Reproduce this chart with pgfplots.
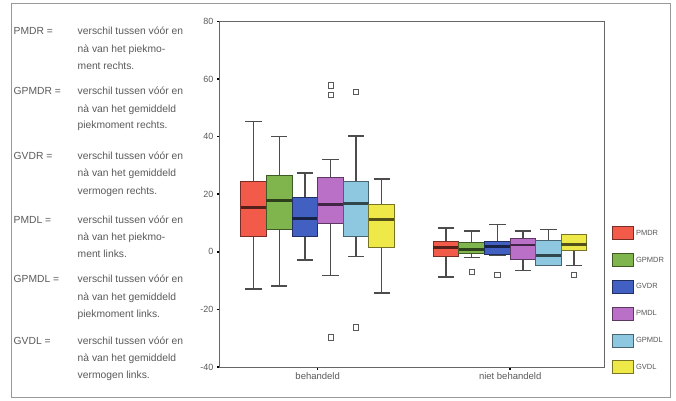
\documentclass[border=0pt]{standalone}
\usepackage{pgfplots}
\pgfplotsset{compat=1.18}
\usepackage{fontspec}
\setmainfont{Liberation Sans}
\definecolor{cR}{RGB}{242,90,74}
\definecolor{cG}{RGB}{128,180,76}
\definecolor{cB}{RGB}{66,96,194}
\definecolor{cP}{RGB}{185,112,198}
\definecolor{cL}{RGB}{142,200,224}
\definecolor{cY}{RGB}{238,232,72}
\definecolor{txt}{RGB}{90,90,90}
\pgfplotsset{
  legbox/.style={legend image code/.code={\draw[fill=#1,draw=#1!50!black,line width=0.8pt] (0pt,-6.5pt) rectangle (21pt,6.5pt);}},
}
% box: centre, lower whisker, lower quartile, median, upper quartile, upper whisker, colour
\newcommand\bx[7]{%
  \pgfmathsetmacro\xa{#1-0.0665}\pgfmathsetmacro\xb{#1+0.0665}%
  \pgfmathsetmacro\wa{#1-0.0425}\pgfmathsetmacro\wb{#1+0.0425}%
  \edef\tmp{\noexpand\addplot[forget plot, draw=black!70, line width=1.4pt, unbounded coords=jump] coordinates {(#1,#2) (#1,#3) (#1,nan) (#1,#5) (#1,#6) (#1,nan) (\wa,#2) (\wb,#2) (#1,nan) (\wa,#6) (\wb,#6)};
  \noexpand\addplot[forget plot, fill=#7, draw=#7!50!black, line width=1pt] coordinates {(\xa,#3) (\xb,#3) (\xb,#5) (\xa,#5)} --cycle;
  \noexpand\addplot[forget plot, draw=#7!35!black, line width=2.8pt] coordinates {(\xa,#4) (\xb,#4)};}%
  \tmp
}
\newcommand\tl[3]{\node[anchor=base west, inner sep=0pt, text=txt, font=\fontsize{10.3}{12}\selectfont] at (#1pt,#2pt) {#3};}
\begin{document}
\begin{tikzpicture}
\fill[white] (0pt,0pt) rectangle (676pt,400pt);
\draw[black!40, line width=0.8pt] (11pt,3pt) rectangle (670pt,397pt);
% explanatory text
\tl{13.5}{366}{PMDR =}
\tl{77.5}{366}{verschil tussen vóór en}
\tl{77.5}{348}{nà van het piekmo-}
\tl{77.5}{331}{ment rechts.}
\tl{13.5}{306}{GPMDR =}
\tl{77.5}{306}{verschil tussen vóór en}
\tl{77.5}{288}{nà van het gemiddeld}
\tl{77.5}{272}{piekmoment rechts.}
\tl{13.5}{241}{GVDR =}
\tl{77.5}{241}{verschil tussen vóór en}
\tl{77.5}{224}{nà van het gemiddeld}
\tl{77.5}{206}{vermogen rechts.}
\tl{13.5}{177}{PMDL =}
\tl{77.5}{177}{verschil tussen vóór en}
\tl{77.5}{160}{nà van het piekmo-}
\tl{77.5}{143}{ment links.}
\tl{13.5}{118}{GPMDL =}
\tl{77.5}{118}{verschil tussen vóór en}
\tl{77.5}{100}{nà van het gemiddeld}
\tl{77.5}{83}{piekmoment links.}
\tl{13.5}{56}{GVDL =}
\tl{77.5}{56}{verschil tussen vóór en}
\tl{77.5}{39}{nà van het gemiddeld}
\tl{77.5}{22}{vermogen links.}
\begin{axis}[
  at={(219.5pt,33pt)}, anchor=south west,
  scale only axis, width=385pt, height=345.5pt,
  xmin=0.49, xmax=2.49, ymin=-40, ymax=80,
  xtick={1,2}, xticklabels={behandeld, niet behandeld},
  ytick={-40,-20,0,20,40,60,80},
  tick pos=left,
  axis line style={draw=black!60, line width=1pt},
  tick align=outside, major tick length=2.5pt,
  tick style={black, line width=1.6pt},
  xticklabel style={font=\fontsize{9.5}{10}\selectfont, text=txt},
  yticklabel style={font=\fontsize{9}{10}\selectfont, text=txt},
  /pgf/number format/assume math mode=true,
  legend style={at={(1.0187,0.4067)}, anchor=north west, draw=none, fill=none,
    font=\fontsize{7.5}{8}\selectfont, text=txt, row sep=13pt, column sep=2.5pt,
    inner sep=0pt, outer sep=0pt, nodes={inner sep=0pt, outer sep=0pt}},
  legend cell align=left,
]
% behandeld
\bx{0.6675}{-12.9}{5.4}{15.5}{24.4}{45.3}{cR}
\bx{0.8005}{-11.8}{7.6}{17.8}{26.4}{40.0}{cG}
\bx{0.9335}{-2.9}{5.3}{11.7}{18.7}{27.4}{cB}
\bx{1.0665}{-8.3}{10.0}{16.5}{25.9}{32.0}{cP}
\bx{1.1995}{-1.7}{5.3}{16.9}{24.3}{40.2}{cL}
\bx{1.3325}{-14.3}{1.5}{11.1}{16.5}{25.3}{cY}
% niet behandeld
\bx{1.6675}{-8.8}{-1.7}{1.4}{3.7}{8.3}{cR}
\bx{1.8005}{-1.9}{-0.5}{0.7}{3.3}{7.2}{cG}
\bx{1.9335}{-1.1}{-1.0}{1.9}{3.7}{9.5}{cB}
\bx{2.0665}{-6.5}{-2.5}{2.4}{4.5}{7.2}{cP}
\bx{2.1995}{-4.8}{-4.6}{-1.3}{3.9}{7.7}{cL}
\bx{2.3325}{-4.8}{0.4}{2.5}{5.9}{6.0}{cY}
% outliers
\addplot[forget plot, only marks, mark=square, mark size=2.6pt, mark options={draw=black!65, fill=white, line width=0.7pt}]
  coordinates {(1.0665,57.8) (1.0665,54.6) (1.0665,-29.7) (1.1995,55.5) (1.1995,-26.2) (1.8005,-6.9) (1.9335,-7.9) (2.3325,-7.9)};
\addlegendimage{legbox=cR}\addlegendentry{PMDR}
\addlegendimage{legbox=cG}\addlegendentry{GPMDR}
\addlegendimage{legbox=cB}\addlegendentry{GVDR}
\addlegendimage{legbox=cP}\addlegendentry{PMDL}
\addlegendimage{legbox=cL}\addlegendentry{GPMDL}
\addlegendimage{legbox=cY}\addlegendentry{GVDL}
\end{axis}
\end{tikzpicture}
\end{document}
